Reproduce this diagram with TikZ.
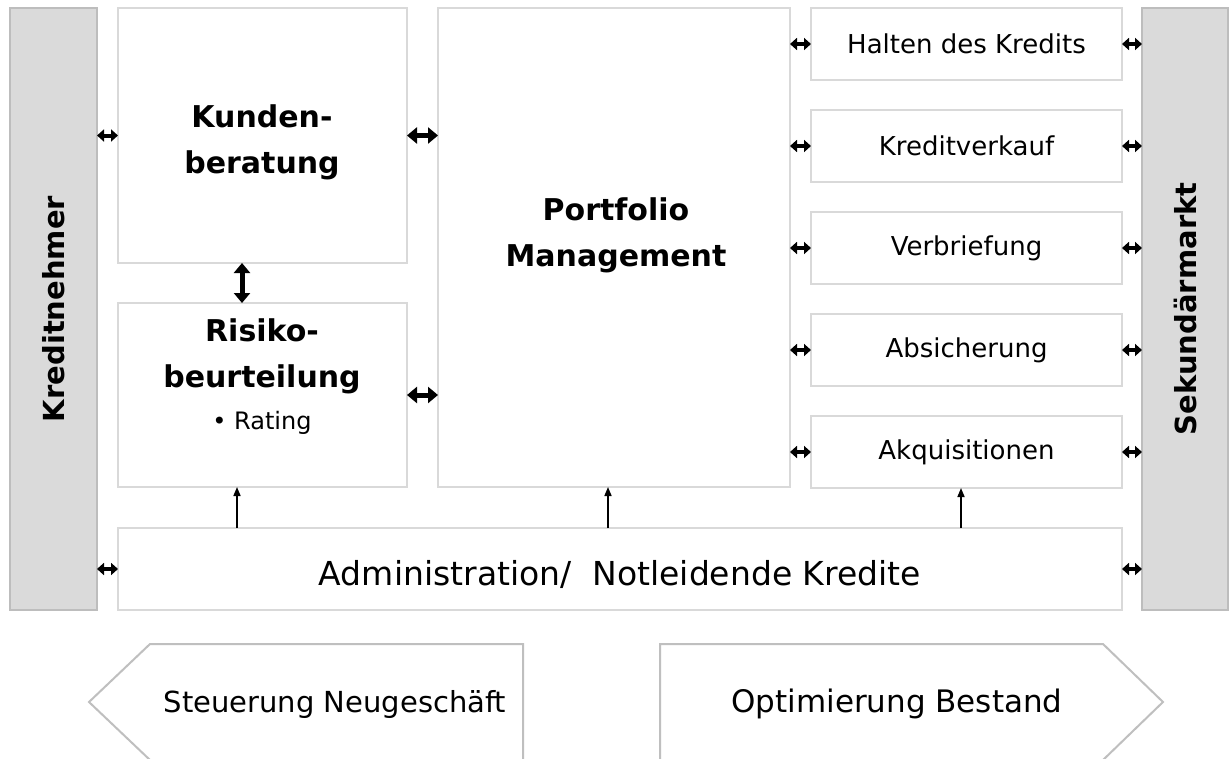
\documentclass[tikz,border=0pt]{standalone}
\usepackage{fontspec}
\usepackage{graphicx}
\setmainfont{DejaVu Sans}
\usepackage{tikz}
\usetikzlibrary{arrows.meta, positioning, calc}
\definecolor{boxline}{HTML}{D9D9D9}
\definecolor{barfill}{HTML}{DADADA}
\definecolor{barline}{HTML}{BDBDBD}
\definecolor{pentline}{HTML}{BFBFBF}
\tikzset{
  pbox/.style={draw=boxline, fill=white, line width=2pt, inner sep=0pt, outer sep=0pt, align=center},
  sidebar/.style={draw=barline, fill=barfill, line width=2pt, inner sep=0pt, outer sep=0pt,
    minimum width=87pt, minimum height=602pt, font=\bfseries\fontsize{29}{36}\selectfont},
  headtxt/.style={font=\bfseries\fontsize{30}{46}\selectfont, align=center},
  optbox/.style={pbox, minimum width=311pt, minimum height=72pt, font=\fontsize{26}{30}\selectfont},
  pent/.style={draw=pentline, fill=white, line width=2pt, line join=miter},
  penttxt/.style={font=\fontsize{30}{36}\selectfont},
  dbl/.style={{Triangle[length=7pt,width=12pt]}-{Triangle[length=7pt,width=12pt]}, line width=4pt},
  dblbig/.style={{Triangle[length=10pt,width=16pt]}-{Triangle[length=10pt,width=16pt]}, line width=5pt},
  upflow/.style={-{Triangle[length=9pt,width=7pt]}, line width=1.6pt}
}

\begin{document}
\begin{tikzpicture}[x=1pt, y=-1pt, node distance=30pt]
\useasboundingbox (0,0) rectangle (1232,758);
% side bars
\node[sidebar, anchor=north west] (kn) at (10,8) {\rotatebox{90}{Kreditnehmer}};
\node[sidebar, minimum width=86pt, anchor=north west] (sm) at (1142,8) {\rotatebox{90}{Sekundärmarkt}};
% left column
\node[pbox, minimum width=289pt, minimum height=255pt, anchor=north west] (kb) at (118,8) {};
\node[headtxt] (kbtxt) at (262,142) {Kunden-\\beratung};
\node[pbox, minimum width=289pt, minimum height=184pt, anchor=north west] (rb) at (118,303) {};
\node[headtxt] (rbtxt) at (262,377)
  {Risiko-\\beurteilung\\[-4pt]{\mdseries\fontsize{24}{30}\selectfont • Rating}};
% portfolio management
\node[pbox, minimum width=352pt, minimum height=479pt, anchor=north west] (pm) at (438,8) {};
\node[headtxt] (pmtxt) at (616,235) {Portfolio\\Management};
% options on the right
\node[optbox, anchor=north west] (halt) at (811,8) {Halten des Kredits};
\node[optbox, below=of halt] (kv) {Kreditverkauf};
\node[optbox, below=of kv] (vb) {Verbriefung};
\node[optbox, below=of vb] (abs) {Absicherung};
\node[optbox, below=of abs] (akq) {Akquisitionen};
% administration
\node[pbox, minimum width=1004pt, minimum height=82pt, anchor=north west] (ad) at (118,528) {};
\node[font=\fontsize{33}{40}\selectfont] (adtxt) at (620,574) {Administration/~~Notleidende Kredite};

\draw[dbl] (kn.east |- kb.west) -- (kb.west); \draw[dbl] (kn.east |- ad.west) -- (ad.west);
\draw[dblbig] (kb.east) -- (pm.west |- kb.east); \draw[dblbig] (rb.east) -- (pm.west |- rb.east);
\draw[dblbig] (kb.south -| 242,0) -- (rb.north -| 242,0);
\foreach \opt in {halt,kv,vb,abs,akq}{
  \draw[dbl] (pm.east |- \opt.west) -- (\opt.west); \draw[dbl] (\opt.east) -- (sm.west |- \opt.east);
}
\draw[dbl] (ad.east) -- (sm.west |- ad.east);
\draw[upflow] (ad.north -| 237,0) -- (rb.south -| 237,0);
\draw[upflow] (ad.north -| 608,0) -- (pm.south -| 608,0);
\draw[upflow] (ad.north -| 961,0) -- (akq.south -| 961,0);

% direction arrows at the bottom
\draw[pent] (150,644) -- (523,644) -- (523,760) -- (150,760) -- (89,702) -- cycle;
\node[penttxt, font=\fontsize{29}{36}\selectfont] (neu) at (335,704) {Steuerung Neugeschäft};
\draw[pent] (660,644) -- (1103,644) -- (1163,702) -- (1103,760) -- (660,760) -- cycle;
\node[penttxt, font=\fontsize{31}{36}\selectfont] (best) at (897,704) {Optimierung Bestand};
\end{tikzpicture}
\end{document}
